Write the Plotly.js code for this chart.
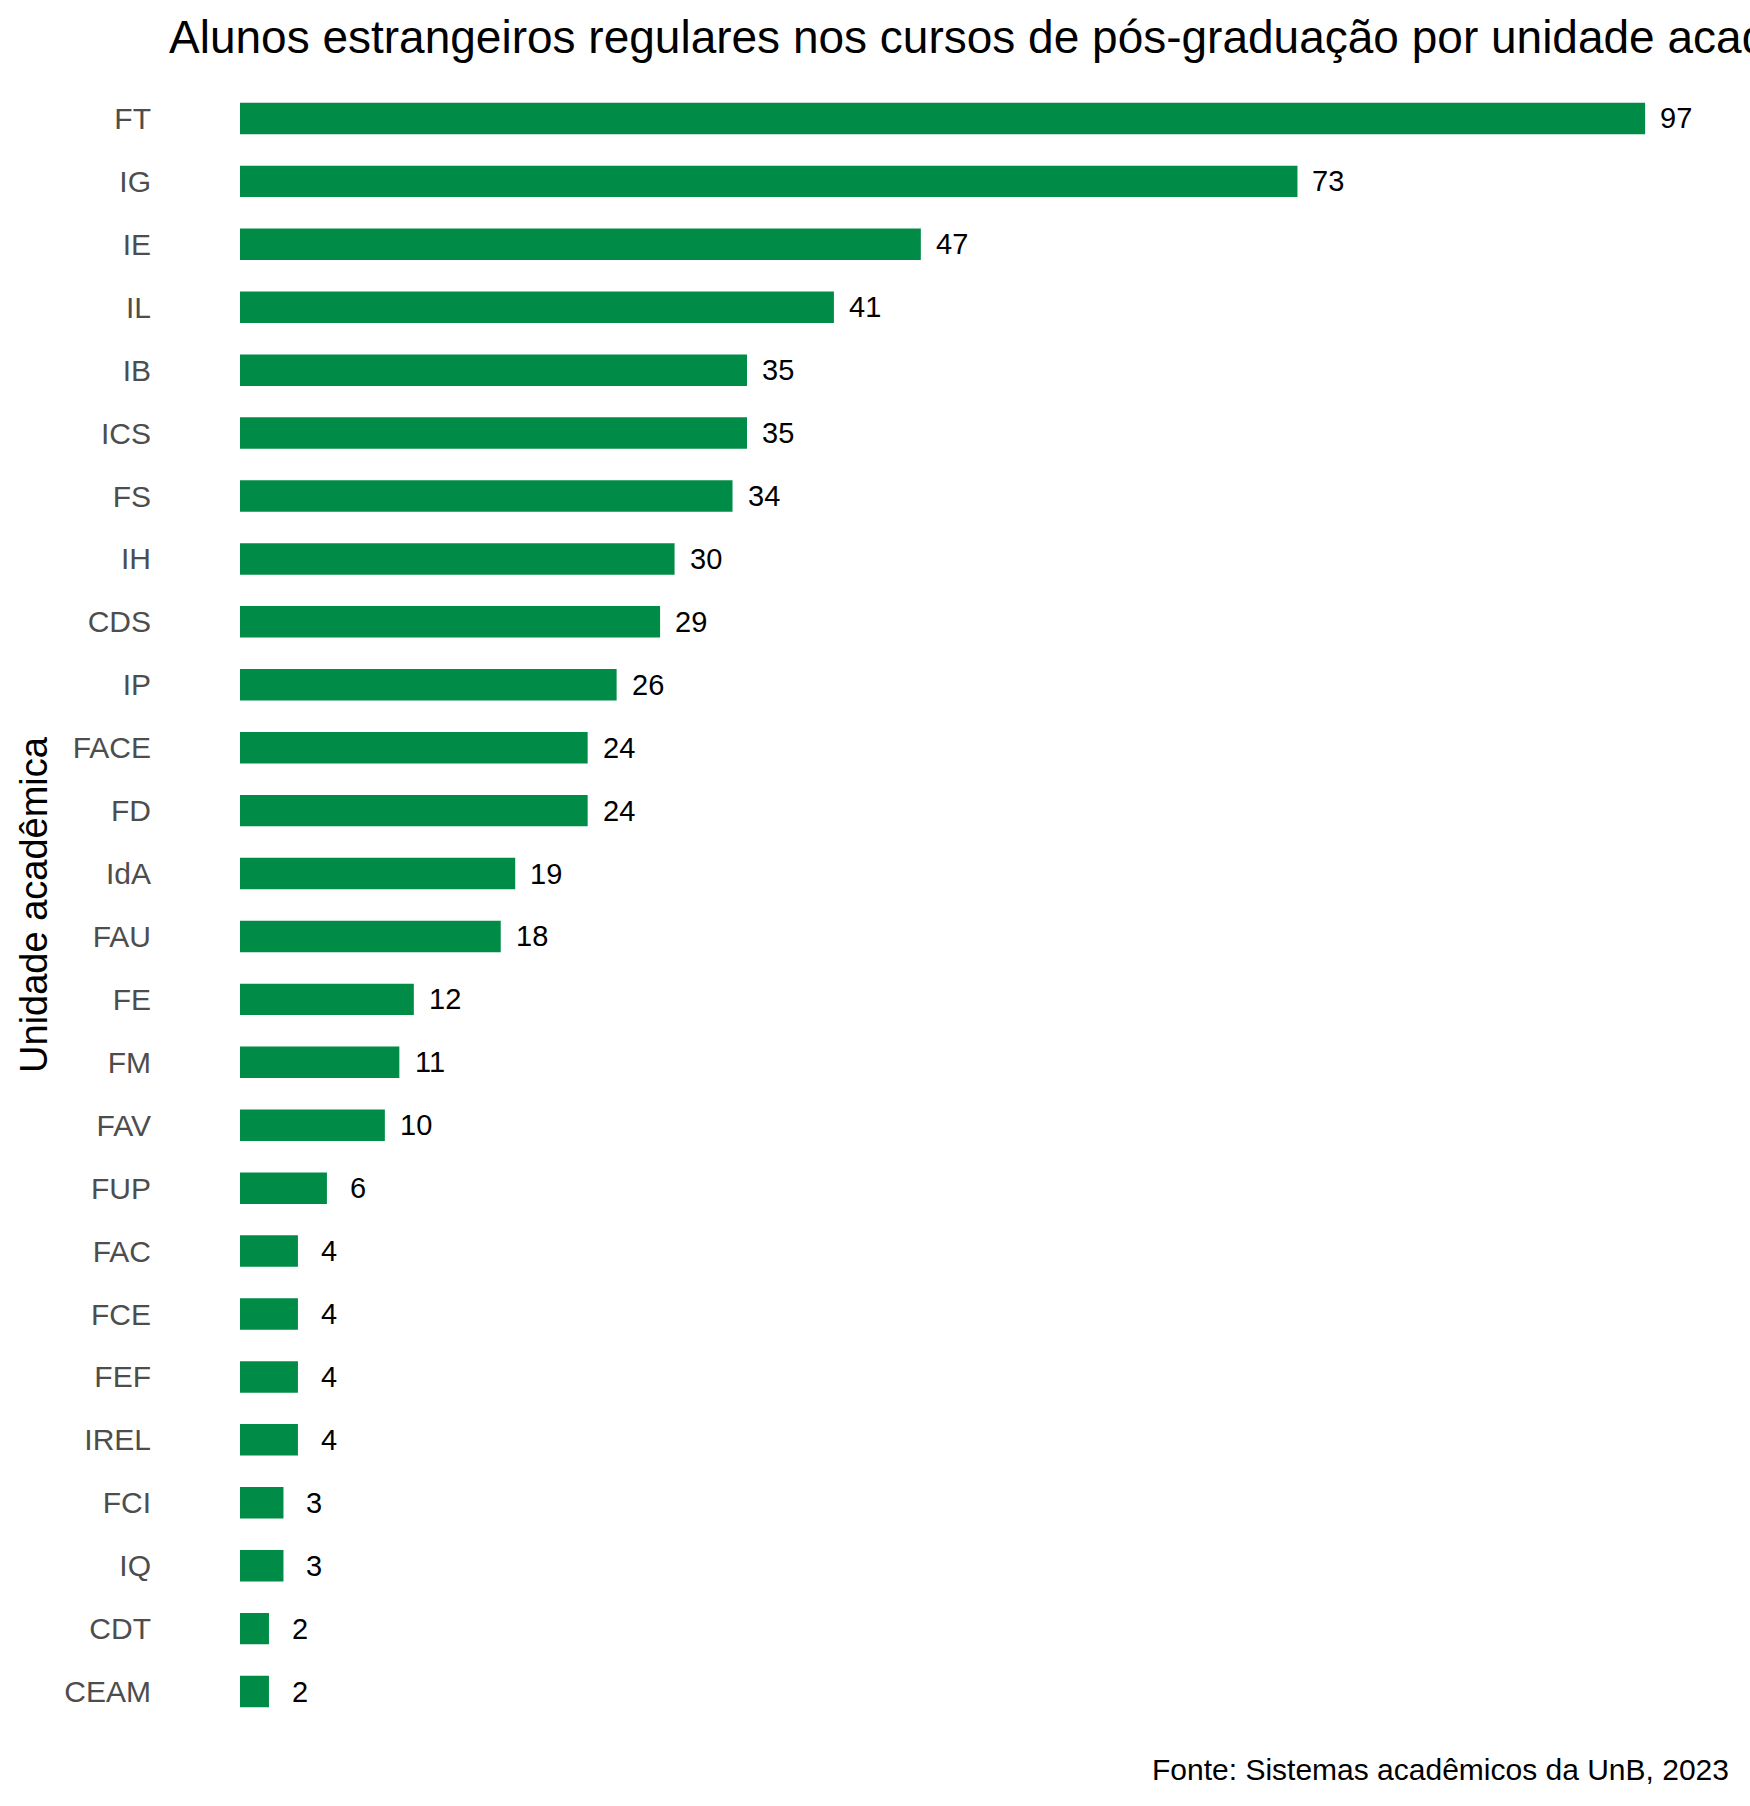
<!DOCTYPE html>
<html>
<head>
<meta charset="utf-8">
<script src="https://cdn.plot.ly/plotly-3.0.1.min.js"></script>
<style>html,body{margin:0;padding:0;background:#fff;}#chart{width:1750px;height:1806px;}</style>
</head>
<body>
<div id="chart"></div>
<script>
const units = ["FT","IG","IE","IL","IB","ICS","FS","IH","CDS","IP","FACE","FD","IdA","FAU","FE","FM","FAV","FUP","FAC","FCE","FEF","IREL","FCI","IQ","CDT","CEAM"];
const counts = [97,73,47,41,35,35,34,30,29,26,24,24,19,18,12,11,10,6,4,4,4,4,3,3,2,2];
const titleText = "Alunos estrangeiros regulares nos cursos de pós-graduação por unidade acadêmica";
const yTitle = "Unidade acadêmica";
const captionText = "Fonte: Sistemas acadêmicos da UnB, 2023";

const FONT = "Liberation Sans, Arial, Helvetica, sans-serif";

const trace = {
  type: "bar",
  orientation: "h",
  x: counts,
  y: units,
  marker: {color: "#008C46", line: {width: 0}},
  hoverinfo: "x+y"
};

const labelAnnotations = units.map((u, i) => ({
  x: counts[i], y: u, xref: "x", yref: "y",
  text: String(counts[i]), showarrow: false,
  xanchor: "center", yanchor: "middle", xshift: 31,
  font: {family: FONT, size: 29, color: "#000000"}
}));

const layout = {
  width: 1750, height: 1806,
  paper_bgcolor: "#ffffff", plot_bgcolor: "#ffffff",
  margin: {l: 155, r: 20, t: 87, b: 83, autoexpand: false},
  bargap: 0.5,
  showlegend: false,
  font: {family: FONT},
  title: {
    text: titleText,
    font: {family: FONT, size: 46, color: "#000000"},
    xref: "container", yref: "container",
    x: 169/1750, xanchor: "left",
    y: 1 - 37/1806, yanchor: "middle"
  },
  xaxis: {
    range: [-5.868, 102.86],
    showgrid: false, zeroline: false, showline: false,
    showticklabels: false, ticks: ""
  },
  yaxis: {
    type: "category",
    categoryorder: "array", categoryarray: units,
    range: [25.5, -0.5],
    showgrid: false, zeroline: false, showline: false, ticks: "",
    ticklabelstandoff: 3,
    tickfont: {family: FONT, size: 30, color: "#4D4D4D"},
    title: {text: yTitle, font: {family: FONT, size: 38, color: "#000000"}, standoff: 5}
  },
  annotations: labelAnnotations.concat([{
    xref: "paper", yref: "paper", x: 1, y: 0,
    xanchor: "right", yanchor: "middle", xshift: 1, yshift: -46,
    text: captionText, showarrow: false,
    font: {family: FONT, size: 30, color: "#000000"}
  }])
};

Plotly.newPlot("chart", [trace], layout, {displayModeBar: false, staticPlot: true});
</script>
</body>
</html>
